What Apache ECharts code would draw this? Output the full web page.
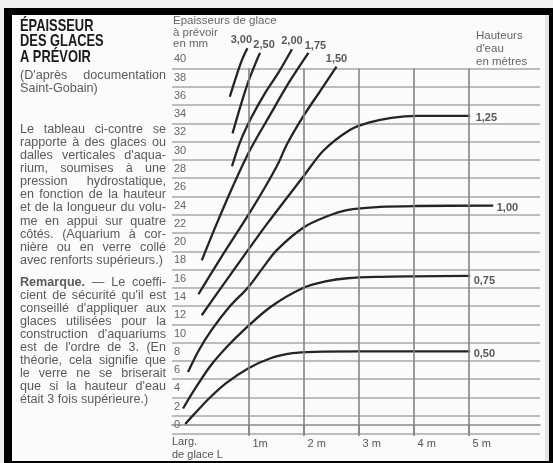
<!DOCTYPE html>
<html><head><meta charset="utf-8">
<script src="https://cdn.jsdelivr.net/npm/echarts@6/dist/echarts.min.js"></script>
<style>html,body{margin:0;padding:0;background:#f1f1f1;}#c{width:553px;height:463px;}</style>
</head><body><div id="c"></div>
<script>
// ---------- DATA ----------
const curveNames = ['0,50','0,75','1,00','1,25','1,50','1,75','2,00','2,50','3,00'];
const curve050 = [[-0.15,0.1],[0,1.1],[0.3,3.0],[0.6,4.6],[1.0,6.2],[1.4,7.3],[1.8,7.85],[2.2,8.0],[3.0,8.05],[4.0,8.05],[5.03,8.05]];
const curve075 = [[-0.19,1.8],[0,3.7],[0.3,6.4],[0.6,8.5],[0.9,10.3],[1.4,12.9],[2.0,15.0],[2.4,15.7],[2.8,16.05],[3.4,16.2],[4.0,16.25],[5.03,16.3]];
const curve100 = [[-0.1,5.8],[0.1,8.2],[0.33,10.4],[0.65,12.9],[1.0,15.1],[1.25,17.1],[1.51,19.1],[2.0,21.6],[2.42,22.8],[2.79,23.5],[3.4,23.85],[4.06,23.95],[5.45,24.0]];
const curve125 = [[0.15,12.0],[0.5,15.0],[1.0,19.2],[1.35,22.1],[2.0,27.2],[2.36,30.0],[2.85,32.3],[3.2,33.1],[3.6,33.6],[4.06,33.8],[5.03,33.8]];
const curve150 = [[0.09,14.3],[0.5,18.3],[1.0,23.0],[1.3,26.0],[1.54,28.6],[1.69,30.6],[2.0,33.8],[2.3,36.5],[2.6,39.2]];
const curve175 = [[0.15,18.0],[0.4,21.7],[0.7,25.9],[1.03,30.1],[1.4,34.0],[1.75,37.6],[2.09,40.7]];
const curve200 = [[0.7,28.3],[0.85,31.0],[1.05,33.6],[1.3,36.3],[1.55,38.6],[1.79,41.1]];
const curve250 = [[0.71,31.9],[0.85,34.8],[1.0,37.6],[1.15,39.9],[1.21,40.7]];
const curve300 = [[0.66,35.9],[0.77,38.0],[0.88,39.9],[0.98,41.2]];
const curves = [curve050,curve075,curve100,curve125,curve150,curve175,curve200,curve250,curve300];

const yTickLabels = [0,2,4,6,8,10,12,14,16,18,20,22,24,26,28,30,32,34,36,38,40];
const yGridValues = [-1,1,3,5,7,9,11,13,15,17,19,21,23,25,27,29,31,33,35,37,39];
const xTickValues = [1,2,3,4,5];
const xTickLabels = ['1m','2 m','3 m','4 m','5 m'];

const titleLines = ['ÉPAISSEUR','DES GLACES','A PRÉVOIR'];
const sourceLines = ["(D'après documentation", 'Saint-Gobain)'];
const para1 = ['Le tableau ci-contre se','rapporte à des glaces ou',"dalles verticales d'aqua-",'rium, soumises à une','pression hydrostatique,','en fonction de la hauteur','et de la longueur du volu-','me en appui sur quatre','côtés. (Aquarium à cor-','nière ou en verre collé','avec renforts supérieurs.)'];
const para2 = ['Remarque. — Le coeffi-',"cient de sécurité qu'il est","conseillé d'appliquer aux",'glaces utilisées pour la',"construction d'aquariums","est de l'ordre de 3. (En",'théorie, cela signifie que','le verre ne se briserait',"que si la hauteur d'eau",'était 3 fois supérieure.)'];
const yAxisTitle = ['Epaisseurs de glace','à prévoir','en mm'];
const curvesTitle = ['Hauteurs',"d'eau",'en mètres'];
const xAxisTitle = ['Larg.','de glace L'];

// ---------- STYLE ----------
const FONT = '"Liberation Sans", Arial, sans-serif';
const labelPlacement = [
  {position:'right', distance:3, offset:[0,3]},
  {position:'right', distance:3, offset:[0,5]},
  {position:'right', distance:3, offset:[0,2]},
  {position:'right', distance:5, offset:[0,2]},
  {position:'top', distance:3, offset:[0,1]},
  {position:'top', distance:3, offset:[7,2]},
  {position:'top', distance:3, offset:[0,1]},
  {position:'top', distance:3, offset:[4,1]},
  {position:'top', distance:3, offset:[-6,1]}
];

const measureCtx = document.createElement('canvas').getContext('2d');
function measure(t, size, weight){ measureCtx.font = (weight||'normal')+' '+size+'px '+FONT; return measureCtx.measureText(t).width; }

const textEls = [];
function addLine(text, x, y, width, justify, opts){
  const size = opts.size, sx = opts.sx || 1, fill = opts.fill;
  const words = text.split(' ');
  const weights = words.map(w => (opts.bold && opts.bold.indexOf(w) >= 0) ? 'bold' : (opts.weight || 'normal'));
  const widths = words.map((w,i) => measure(w, size, weights[i]) * sx);
  const total = widths.reduce((a,b)=>a+b,0);
  const space = measure(' ', size, 'normal') * sx;
  const gap = (justify && words.length > 1) ? Math.max(space*0.8, (width - total) / (words.length - 1)) : space;
  let cx = x;
  words.forEach((w,i) => {
    textEls.push({type:'text', x: cx, y: y, scaleX: sx, z: 10, silent: true,
      style:{text: w, fill: fill, fontSize: size, fontFamily: FONT, fontWeight: weights[i], verticalAlign: 'middle', align: 'left'}});
    cx += widths[i] + gap;
  });
}

const LEFT = 20, RIGHT = 166, W = RIGHT - LEFT;
titleLines.forEach((t,i) => textEls.push({type:'text', x: LEFT, y: 26 + i*15.5, scaleX: 0.78, z: 10, silent:true,
  style:{text:t, fill:'#1a1a1a', fontSize:16.5, fontWeight:'bold', fontFamily:FONT, verticalAlign:'middle'}}));
const bodyOpts = {size:12, sx:1.05, fill:'#5a5a5a', bold:['Remarque.']};
sourceLines.forEach((t,i) => addLine(t, LEFT, 76 + i*13, W, i === 0, bodyOpts));
para1.forEach((t,i) => addLine(t, LEFT, 129.5 + i*13.1, W, i < para1.length-1, bodyOpts));
para2.forEach((t,i) => addLine(t, LEFT, 283 + i*13.0, W, i < para2.length-1, bodyOpts));
yAxisTitle.forEach((t,i) => addLine(t, 173, 21 + i*11.6, 0, false, {size:11.5, fill:'#666'}));
curvesTitle.forEach((t,i) => addLine(t, 476, 36 + i*12.7, 0, false, {size:11.5, fill:'#666'}));
xAxisTitle.forEach((t,i) => addLine(t, 172, 442 + i*12.5, 0, false, {size:11, fill:'#555'}));

const frame = [
  {type:'rect', z:-100, silent:true, shape:{x:4, y:8, width:549, height:455}, style:{fill:'#000'}},
  {type:'rect', z:-99, silent:true, shape:{x:12, y:15, width:537, height:446}, style:{fill:'#fbfbfa'}},
  {type:'rect', z:-98, silent:true, shape:{x:545, y:15, width:4, height:446}, style:{fill:'#e4e4e4'}}
];

// ---------- CHART ----------
const chart = echarts.init(document.getElementById('c'), null, {renderer:'canvas'});
const lineSeries = curves.map((pts,i) => ({
  type:'line', name: curveNames[i], data: pts, symbol:'none', smooth:0.3, clip:false, silent:true, z:3,
  lineStyle:{color:'#242424', width:2.3}
}));
const gridSeries = {
  type:'line', data:[], silent:true, z:1, symbol:'none',
  markLine:{silent:true, symbol:['none','none'], animation:false, label:{show:false},
    lineStyle:{color:'#858585', width:1.6, type:'solid'},
    data: xTickValues.map(v => [{coord:[v, yGridValues[0]]},{coord:[v, yGridValues[yGridValues.length-1]]}])}
};
const labelSeries = {
  type:'scatter', silent:true, z:4, symbolSize:1, itemStyle:{color:'rgba(0,0,0,0)'},
  data: curves.map((pts,i) => ({value: pts[pts.length-1],
    label: Object.assign({show:true, formatter: curveNames[i], color:'#2e2e2e', fontSize:11, fontWeight:'bold', fontFamily:FONT}, labelPlacement[i])}))
};

chart.setOption({
  animation:false,
  backgroundColor:'transparent',
  graphic: frame.concat(textEls),
  grid:{left:172, right:13, top:41, bottom:28.9, containLabel:false},
  xAxis:{type:'value', min:-0.391, max:6.3,
    axisLine:{show:true, lineStyle:{color:'#8a8a8a', width:1.6}},
    axisTick:{show:true, customValues:xTickValues, length:11, lineStyle:{color:'#858585', width:1.6}},
    axisLabel:{show:true, customValues:xTickValues, formatter:(v)=>xTickLabels[xTickValues.indexOf(v)], align:'left', padding:[0,0,0,4], margin:4, color:'#555', fontSize:11, fontFamily:FONT},
    splitLine:{show:false}},
  yAxis:{type:'value', min:-1, max:42,
    axisLine:{show:false},
    axisTick:{show:false, customValues:yGridValues},
    axisLabel:{show:true, inside:true, customValues:yTickLabels, margin:2, color:'#666', fontSize:11, fontFamily:FONT},
    splitLine:{show:true, lineStyle:{color:'#a8a8a8', width:1.6}}},
  series: [gridSeries].concat(lineSeries, [labelSeries])
});
</script></body></html>
